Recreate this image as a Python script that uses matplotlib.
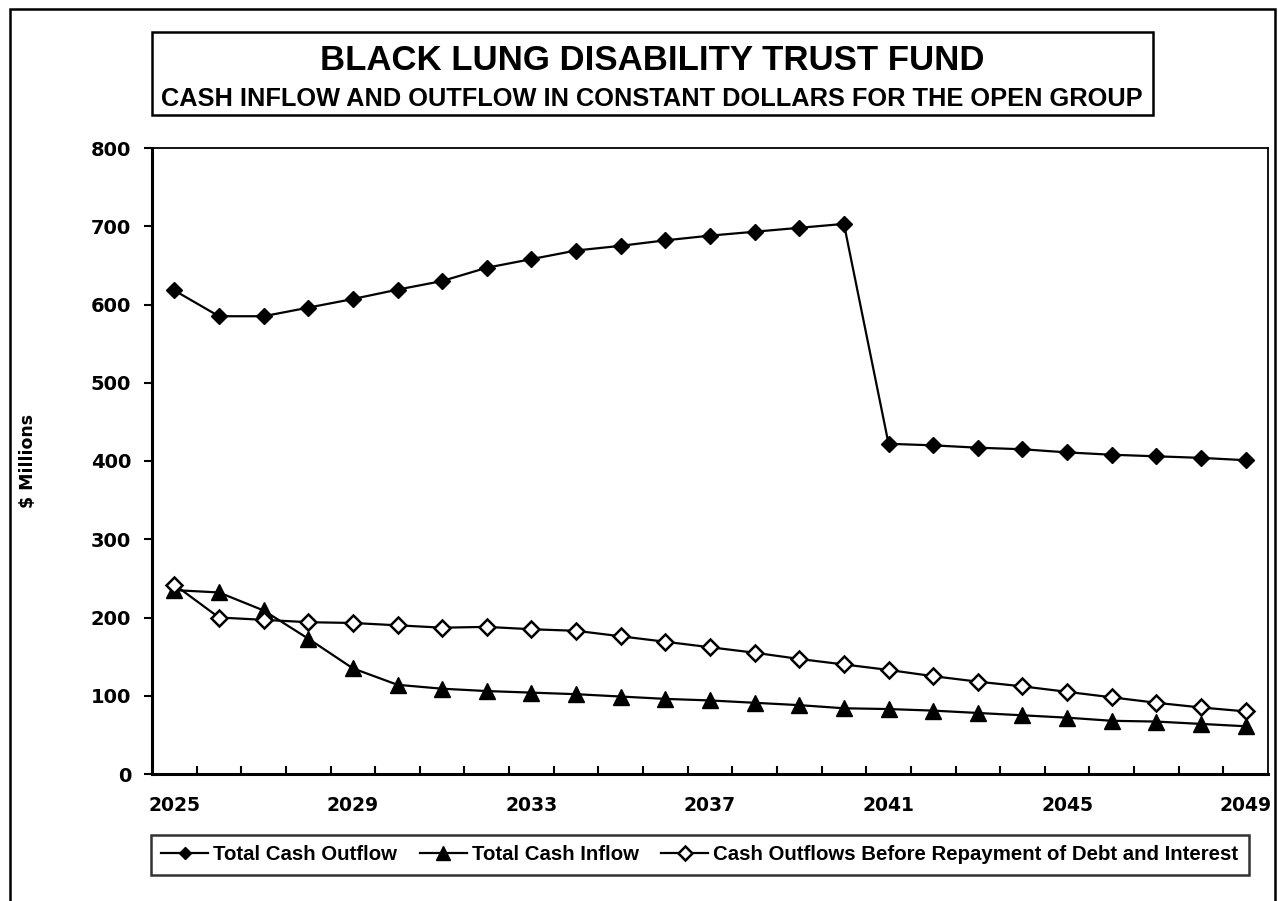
import matplotlib
matplotlib.use('Agg')
import matplotlib.pyplot as plt
from matplotlib.patches import Rectangle

years = list(range(2025, 2050))

# $ millions, constant dollars
total_outflow = [618, 585, 585, 596, 607, 619, 630, 647, 658, 669, 675, 682, 688,
                 693, 698, 703, 422, 420, 417, 415, 411, 408, 406, 404, 401]
total_inflow = [235, 232, 209, 173, 135, 114, 109, 106, 104, 102, 99, 96, 94,
                91, 88, 84, 83, 81, 78, 75, 72, 68, 67, 64, 61]
outflow_before_debt = [242, 200, 197, 194, 193, 190, 187, 188, 185, 183, 176, 169, 162,
                       155, 147, 140, 133, 125, 118, 112, 105, 98, 91, 85, 80]

narrow = ['Liberation Sans', 'DejaVu Sans']
wide = ['DejaVu Sans']

W, H = 1278, 901
fig = plt.figure(figsize=(W / 100, H / 100), dpi=100)

# outer border of the chart object (runs off the bottom)
fig.add_artist(Rectangle((10 / W, -0.05), 1265 / W, 1 - 9 / H + 0.05, transform=fig.transFigure,
                         fill=False, edgecolor='black', linewidth=1.8))

# title box
fig.add_artist(Rectangle((152 / W, 1 - 115 / H), 1001 / W, 83 / H, transform=fig.transFigure,
                         fill=False, edgecolor='black', linewidth=1.8))
fig.text(652 / W, 1 - 60 / H, 'BLACK LUNG DISABILITY TRUST FUND', ha='center', va='center',
         fontsize=25, fontweight='bold', family=narrow)
fig.text(652 / W, 1 - 99 / H, 'CASH INFLOW AND OUTFLOW IN CONSTANT DOLLARS FOR THE OPEN GROUP',
         ha='center', va='center', fontsize=18.3, fontweight='bold', family=narrow)

ax = fig.add_axes([152 / W, 1 - 774 / H, 1116 / W, 626 / H])
x = list(range(len(years)))

ax.plot(x, total_outflow, color='black', lw=1.6, marker='D', ms=8,
        mfc='black', mec='black', label='Total Cash Outflow')
ax.plot(x, total_inflow, color='black', lw=1.6, marker='^', ms=12,
        mfc='black', mec='black', label='Total Cash Inflow')
ax.plot(x, outflow_before_debt, color='black', lw=1.6, marker='D', ms=8.5,
        mfc='white', mec='black', mew=1.8, label='Cash Outflows Before Repayment of Debt and Interest')

ax.set_xlim(-0.5, len(years) - 0.5)
ax.set_ylim(0, 800)

ax.set_yticks(range(0, 801, 100))
ax.tick_params(axis='y', direction='out', length=6, width=1.5, pad=9)
for lab in ax.get_yticklabels():
    lab.set_fontsize(14)
    lab.set_fontweight('bold')
    lab.set_family(wide)

ax.set_xticks(x[::4])
ax.set_xticklabels([str(y) for y in years[::4]], fontsize=13.5, fontweight='bold', family=wide)
ax.set_xticks([i - 0.5 for i in range(1, len(years))], minor=True)
ax.tick_params(axis='x', which='major', length=0, pad=16)
ax.tick_params(axis='x', which='minor', direction='in', length=6, width=1.5)

ax.set_ylabel('$ Millions', fontsize=12.5, fontweight='bold', family=wide)
ax.yaxis.set_label_coords((37 - 152) / 1116, 0.5)

for side in ['left', 'bottom']:
    ax.spines[side].set_linewidth(2.2)
for side in ['top', 'right']:
    ax.spines[side].set_linewidth(1.3)

leg = fig.legend(loc='center', bbox_to_anchor=(700 / W, 1 - 855 / H),
                 ncol=3, frameon=True, fancybox=False, edgecolor='black',
                 handlelength=2.3, handletextpad=0.25, columnspacing=1.1,
                 borderaxespad=0, borderpad=0.5,
                 prop={'family': narrow, 'weight': 'bold', 'size': 14.7})
leg.get_frame().set_linewidth(1.8)
for h in leg.legend_handles:
    h.set_markersize(h.get_markersize() * 0.8)

fig.savefig('out.png', dpi=100)
